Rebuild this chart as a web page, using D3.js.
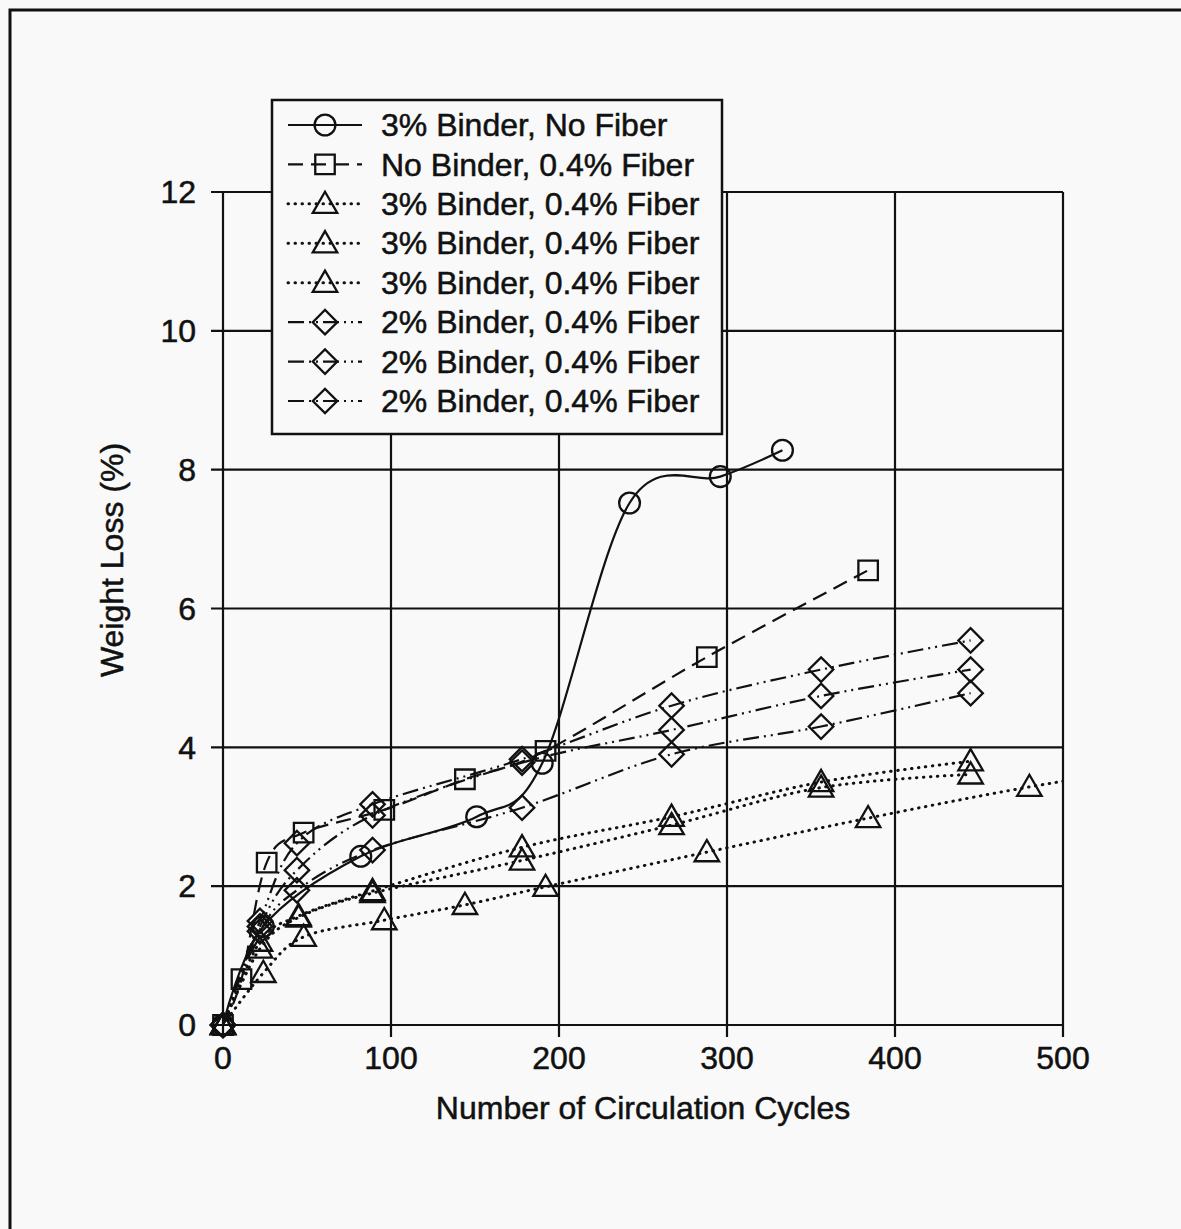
<!DOCTYPE html>
<html>
<head>
<meta charset="utf-8">
<script src="https://cdn.jsdelivr.net/npm/d3@7"></script>
<style>
  html, body { margin: 0; padding: 0; background: #f8f9f8; }
  svg { display: block; }
  text { font-family: "Liberation Sans", Arial, sans-serif; fill: #111; stroke: #111; stroke-width: 0.5px; }
</style>
</head>
<body>
<svg width="1181" height="1229"></svg>
<script>
const width = 1181;
const height = 1229;
const plot_left = 223;
const plot_right = 1063;
const plot_top = 192;
const plot_bottom = 1025;
const bg = "#f8f9f8";
const ink = "#111";
const font_size = "32px";

// axis ticks
const xTicks = [0, 100, 200, 300, 400, 500];
const yTicks = [0, 2, 4, 6, 8, 10, 12];

// series names (legend order)
const seriesNames = [
  "3% Binder, No Fiber",
  "No Binder, 0.4% Fiber",
  "3% Binder, 0.4% Fiber",
  "3% Binder, 0.4% Fiber",
  "3% Binder, 0.4% Fiber",
  "2% Binder, 0.4% Fiber",
  "2% Binder, 0.4% Fiber",
  "2% Binder, 0.4% Fiber"
];

// 3% binder, no fiber (circles)
const circleX = [0, 24, 82, 151, 190, 242, 296, 333];
const circleY = [0, 1.42, 2.43, 3.0, 3.77, 7.52, 7.9, 8.28];

// no binder, 0.4% fiber (squares)
const squareX = [0, 11, 26, 48, 96, 144, 192, 288, 384];
const squareY = [0, 0.66, 2.34, 2.77, 3.1, 3.54, 3.95, 5.3, 6.55];

// 3% binder, 0.4% fiber (triangles)
const triAX = [0, 22, 45, 89, 178, 267, 356, 445];
const triAY = [0, 1.2, 1.57, 1.93, 2.56, 3.0, 3.5, 3.8];
const triBX = [0, 22, 45, 89, 178, 267, 356, 445];
const triBY = [0, 1.1, 1.55, 1.9, 2.37, 2.88, 3.42, 3.61];
const triCX = [0, 24, 48, 96, 144, 192, 288, 384, 480, 576];
const triCY = [0, 0.75, 1.27, 1.51, 1.73, 1.99, 2.49, 2.98, 3.43, 3.8];

// 2% binder, 0.4% fiber (diamonds)
const diaX = [0, 22, 44, 89, 178, 267, 356, 445];
const diaAY = [0, 1.5, 2.62, 3.18, 3.83, 4.6, 5.12, 5.54];
const diaBY = [0, 1.42, 2.23, 3.02, 3.78, 4.25, 4.74, 5.12];
const diaCY = [0, 1.35, 1.94, 2.52, 3.13, 3.9, 4.3, 4.78];

const dashSolid = null;
const dashLong = "15,8";
const dashDot = "0.5,6.5";
const dashDotDot = "16,5,2,5,2,5";

const series = [
  { xs: circleX, ys: circleY, marker: "circle", dash: dashSolid },
  { xs: squareX, ys: squareY, marker: "square", dash: dashLong },
  { xs: triAX, ys: triAY, marker: "triangle", dash: dashDot },
  { xs: triBX, ys: triBY, marker: "triangle", dash: dashDot },
  { xs: triCX, ys: triCY, marker: "triangle", dash: dashDot },
  { xs: diaX, ys: diaAY, marker: "diamond", dash: dashDotDot },
  { xs: diaX, ys: diaBY, marker: "diamond", dash: dashDotDot },
  { xs: diaX, ys: diaCY, marker: "diamond", dash: dashDotDot }
];

let svg = d3.select("svg");

const x = d3.scaleLinear().domain([0, 500]).range([plot_left, plot_right]);
const y = d3.scaleLinear().domain([0, 12]).range([plot_bottom, plot_top]);

// background and outer frame
svg.append("rect").attr("width", width).attr("height", height).attr("fill", bg);
svg.append("path")
  .attr("d", d3.line()([[10, height], [10, 10], [width, 10]]))
  .attr("fill", "none")
  .attr("stroke", ink)
  .attr("stroke-width", 3);

function MarkerPath(kind) {
  if (kind === "circle") return d3.symbol(d3.symbolCircle, 340)();
  if (kind === "square") return d3.symbol(d3.symbolSquare, 380)();
  if (kind === "triangle") return d3.symbol(d3.symbolTriangle, 260)();
  return d3.symbol(d3.symbolSquare, 300)();
}

function DrawMarker(g, cx, cy, kind) {
  const p = g.append("path")
    .attr("d", MarkerPath(kind))
    .attr("fill", "none")
    .attr("stroke", ink)
    .attr("stroke-width", 2.3);
  if (kind === "diamond") {
    p.attr("transform", `translate(${cx},${cy}) rotate(45)`);
  } else if (kind === "triangle") {
    p.attr("transform", `translate(${cx},${cy + 2})`);
  } else {
    p.attr("transform", `translate(${cx},${cy})`);
  }
}

function StyleLine(path, dash) {
  path.attr("fill", "none").attr("stroke", ink).attr("stroke-width", 2.2);
  if (dash === dashDot) {
    path.attr("stroke-linecap", "round").attr("stroke-dasharray", dash).attr("stroke-width", 3);
  } else if (dash) {
    path.attr("stroke-dasharray", dash);
  }
}

function DrawGrid() {
  const grid = svg.append("g");
  // horizontal gridlines + y ticks
  grid.selectAll("line.h")
    .data(yTicks)
    .join("line")
    .attr("x1", plot_left - 12)
    .attr("x2", plot_right)
    .attr("y1", d => y(d))
    .attr("y2", d => y(d))
    .attr("stroke", ink)
    .attr("stroke-width", 2.2);
  // vertical gridlines + x ticks
  grid.selectAll("line.v")
    .data(xTicks)
    .join("line")
    .attr("x1", d => x(d))
    .attr("x2", d => x(d))
    .attr("y1", plot_top)
    .attr("y2", plot_bottom + 12)
    .attr("stroke", ink)
    .attr("stroke-width", 2.2);

  // tick labels
  svg.append("g").selectAll("text")
    .data(yTicks)
    .join("text")
    .attr("x", plot_left - 27)
    .attr("y", d => y(d))
    .attr("dy", "0.35em")
    .attr("text-anchor", "end")
    .style("font-size", font_size)
    .text(d => d);
  svg.append("g").selectAll("text")
    .data(xTicks)
    .join("text")
    .attr("x", d => x(d))
    .attr("y", plot_bottom + 33)
    .attr("dy", "0.35em")
    .attr("text-anchor", "middle")
    .style("font-size", font_size)
    .text(d => d);

  // axis titles
  svg.append("text")
    .attr("x", (plot_left + plot_right) / 2)
    .attr("y", 1108)
    .attr("dy", "0.35em")
    .attr("text-anchor", "middle")
    .style("font-size", font_size)
    .text("Number of Circulation Cycles");
  svg.append("text")
    .attr("transform", "translate(112,560) rotate(-90)")
    .attr("dy", "0.35em")
    .attr("text-anchor", "middle")
    .style("font-size", font_size)
    .text("Weight Loss (%)");
}

function DrawSeries() {
  svg.append("defs").append("clipPath")
    .attr("id", "plot-clip")
    .append("rect")
    .attr("x", plot_left)
    .attr("y", plot_top - 20)
    .attr("width", plot_right - plot_left)
    .attr("height", plot_bottom - plot_top + 40);

  const line = d3.line()
    .x(d => x(d[0]))
    .y(d => y(d[1]))
    .curve(d3.curveCatmullRom.alpha(0));

  const lines = svg.append("g").attr("clip-path", "url(#plot-clip)");
  series.forEach(s => {
    const pts = s.xs.map((v, i) => [v, s.ys[i]]);
    StyleLine(lines.append("path").attr("d", line(pts)), s.dash);
  });

  const marks = svg.append("g");
  series.forEach(s => {
    s.xs.forEach((v, i) => {
      if (v > 500) return;
      DrawMarker(marks, x(v), y(s.ys[i]), s.marker);
    });
  });
}

function DrawLegend() {
  const lg = svg.append("g");
  lg.append("rect")
    .attr("x", 272)
    .attr("y", 100)
    .attr("width", 450)
    .attr("height", 334)
    .attr("fill", bg)
    .attr("stroke", ink)
    .attr("stroke-width", 2.5);
  const rowY = d3.scaleLinear().domain([0, 7]).range([125, 401]);
  series.forEach((s, i) => {
    const cy = rowY(i);
    StyleLine(lg.append("path").attr("d", d3.line()([[288, cy], [362, cy]])), s.dash);
    DrawMarker(lg, 325, cy, s.marker);
    lg.append("text")
      .attr("x", 381)
      .attr("y", cy)
      .attr("dy", "0.35em")
      .style("font-size", font_size)
      .text(seriesNames[i]);
  });
}

DrawGrid();
DrawSeries();
DrawLegend();
</script>
</body>
</html>
